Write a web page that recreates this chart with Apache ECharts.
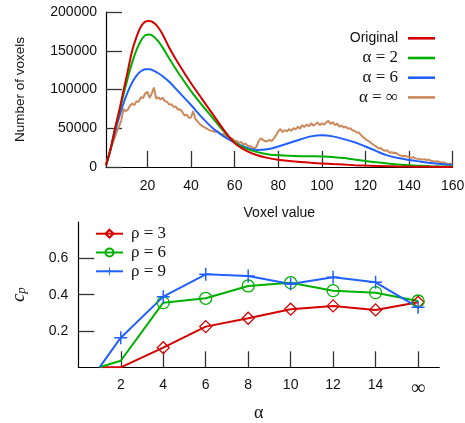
<!DOCTYPE html>
<html>
<head>
<meta charset="utf-8">
<script src="https://cdn.jsdelivr.net/npm/echarts@6/dist/echarts.min.js"></script>
<style>
  html, body { margin: 0; padding: 0; background: #fff; }
  #chart { width: 465px; height: 423px; }
</style>
</head>
<body>
<div id="chart"></div>
<script>
  // ---- histogram (top) ----
  var smoothX = [1, 3, 5, 7, 9, 11, 13, 15, 17, 19, 21, 23, 25, 27, 30, 35, 40, 45, 50, 55, 60, 65, 70, 75, 80,
    85, 90, 95, 100, 105, 110, 115, 120, 125, 130, 135, 140, 145, 150, 155, 160];
  var original = [2000, 22000, 48000, 72000, 98000, 124000, 150000, 168000, 181000, 187500, 188500, 186000, 180000,
    171000, 154000, 130000, 108000, 88000, 68000, 48000, 31000, 21500, 15500, 11800, 9300,
    7700, 6400, 5400, 4600, 3800, 3100, 2400, 1800, 1400, 1000, 700, 500, 350, 250, 150, 100];
  var alpha2 = [2000, 22000, 47000, 70000, 93000, 115000, 135000, 151000, 163000, 170000, 171000, 168000, 162000,
    154000, 140000, 118000, 98000, 80000, 63000, 46000, 32000, 24000, 19500, 16500, 15300,
    14500, 14000, 13800, 13600, 13000, 11500, 9600, 7800, 6000, 4500, 3300, 2300, 1600, 1000, 600, 400];
  var alpha6 = [3000, 22000, 44000, 64000, 82000, 97000, 109000, 118000, 123500, 126000, 126000, 124000, 121000,
    117000, 110000, 95000, 80000, 64000, 50000, 39500, 31500, 25500, 22000, 23000, 26500,
    31000, 35500, 39500, 41000, 39500, 36000, 32000, 26500, 20500, 15000, 11500, 9000, 7000, 5200, 3800, 2600];
  // alpha = infinity, one value per voxel value 1..160
  var alphaInf = [
    4000, 12000, 22000, 30000, 38000, 46000, 52000, 60000, 75000, 72000,
    74000, 79000, 82000, 80000, 85000, 84000, 90000, 89000, 95000, 97000,
    89000, 95000, 102500, 88000, 90000, 87000, 89500, 85000, 84000, 80500,
    81000, 77500, 78000, 74000, 74500, 71000, 66500, 67500, 63500, 64000,
    72000, 62000, 59000, 55500, 53000, 51500, 50000, 48000, 47000, 46000,
    45500, 46500, 44000, 42000, 42500, 40000, 38500, 37500, 36500, 34000,
    33500, 31000, 32500, 29000, 30000, 27500, 27000, 25500, 24000, 26000,
    33500, 37000, 35000, 33000, 33500, 35000, 33500, 37000, 41000, 46000,
    49000, 45000, 47500, 46000, 49000, 46500, 50000, 48500, 52000, 49500,
    54000, 51500, 55000, 52500, 56500, 53500, 55000, 57500, 54000, 56500,
    54500, 57500, 59500, 55500, 58000, 54000, 56000, 52000, 53500, 51000,
    52000, 49500, 50000, 47500, 46500, 44500, 44500, 41000, 38500, 36000,
    34000, 32500, 30000, 28000, 26500, 24000, 24500, 22000, 21000, 21500,
    18500, 19000, 18000, 18500, 16000, 15000, 14000, 14500, 13500, 13000,
    12000, 12500, 11000, 10500, 10000, 9500, 10000, 9000, 9500, 8000,
    7500, 7000, 7500, 6500, 5500, 6000, 4500, 4000, 4500, 2500
  ];
  var voxelTicks = [20, 40, 60, 80, 100, 120, 140, 160];

  // ---- c_p vs alpha (bottom) ----
  var alphaPos = [1, 2, 4, 6, 8, 10, 12, 14, 16]; // 16 stands for infinity
  var alphaTicks = [2, 4, 6, 8, 10, 12, 14, 16];
  var rho3 = [0, 0, 0.108, 0.224, 0.27, 0.32, 0.338, 0.316, 0.358];
  var rho6 = [0, 0.036, 0.356, 0.38, 0.448, 0.466, 0.422, 0.411, 0.365];
  var rho9 = [0, 0.163, 0.389, 0.512, 0.503, 0.459, 0.496, 0.468, 0.33];
  var cpTicks = [0.2, 0.4, 0.6];

  var RED = '#d40000', GREEN = '#00b000', BLUE = '#2060ff', BROWN = '#cc8a5c';
  var SANS = 'Liberation Sans', SERIF = "'Liberation Serif', 'DejaVu Serif', serif";

  function pairs(xs, ys) {
    return xs.map(function (x, i) { return [x, ys[i]]; });
  }
  function withMarkers(xs, ys, firstMarker) {
    return xs.map(function (x, i) {
      var d = { value: [x, ys[i]] };
      if (i < firstMarker) d.symbol = 'none';
      return d;
    });
  }
  // legend text: plain names in sans, math names (with greek) in serif
  function legendText(name) {
    return /[αρ]/.test(name) ? '{m|' + name + '}' : '{s|' + name + '}';
  }
  var legendRich = {
    m: { fontFamily: SERIF, fontSize: 17, lineHeight: 18, color: '#111' },
    s: { fontFamily: SANS, fontSize: 14, lineHeight: 18, color: '#111' }
  };

  var axisLine = { show: true, lineStyle: { color: '#000', width: 1.2 } };
  var axisTick = { show: true, inside: true, length: 16, lineStyle: { color: '#333', width: 1.3 } };
  var labelStyle = { color: '#111', fontFamily: SANS, fontSize: 14 };

  var chart = echarts.init(document.getElementById('chart'), null, { renderer: 'canvas' });

  var plusPath = 'path://M0,6.2h14v1.6h-14z M6.2,0h1.6v14h-1.6z';

  var option = {
    backgroundColor: '#fff',
    animation: false,
    grid: [
      { left: 106, right: 12.3, top: 12, height: 155, outerBoundsMode: 'none' },
      { left: 78.3, right: 25.7, top: 222, height: 145.3, outerBoundsMode: 'none' }
    ],
    legend: [
      {
        orient: 'vertical', align: 'right', right: 30, top: 29.3, padding: 0,
        icon: 'rect', itemWidth: 27, itemHeight: 2.6, itemGap: 1.7,
        formatter: legendText,
        textStyle: { color: '#111', fontSize: 17, lineHeight: 18, padding: [0, 5, 0, 0], rich: legendRich },
        data: ['Original', 'α = 2', 'α = 6', 'α = ∞']
      },
      {
        orient: 'vertical', align: 'left', left: 95, top: 224.7, padding: 0,
        itemWidth: 27, itemHeight: 10, itemGap: 0.8,
        formatter: legendText,
        textStyle: { color: '#111', fontSize: 17, lineHeight: 18, padding: [0, 0, 0, 3], rich: legendRich },
        data: ['ρ = 3', 'ρ = 6', 'ρ = 9']
      }
    ],
    xAxis: [
      {
        gridIndex: 0, type: 'value', min: 1, max: 160,
        name: 'Voxel value', nameLocation: 'middle', nameGap: 39,
        nameTextStyle: { color: '#111', fontFamily: SANS, fontSize: 14 },
        axisLine: axisLine, axisTick: Object.assign({ customValues: voxelTicks }, axisTick),
        axisLabel: Object.assign({ customValues: voxelTicks, margin: 12 }, labelStyle),
        splitLine: { show: false }
      },
      {
        gridIndex: 1, type: 'value', min: 0, max: 17,
        name: '{a|α}', nameLocation: 'middle', nameGap: 37,
        nameTextStyle: { rich: { a: { fontFamily: SERIF, fontSize: 18, color: '#111' } } },
        axisLine: axisLine, axisTick: Object.assign({ customValues: alphaTicks }, axisTick),
        axisLabel: Object.assign({
          customValues: alphaTicks, margin: 11,
          formatter: function (v) { return v === 16 ? '{inf|∞}' : String(v); },
          rich: { inf: { fontFamily: SERIF, fontSize: 20, color: '#111', padding: [0, 0, 3, 0] } }
        }, labelStyle),
        splitLine: { show: false }
      }
    ],
    yAxis: [
      {
        gridIndex: 0, type: 'value', min: 0, max: 200000, interval: 50000,
        name: 'Number of voxels', nameLocation: 'middle', nameGap: 79, nameRotate: 90,
        nameTextStyle: { color: '#111', fontFamily: SANS, fontSize: 13.5 },
        axisLine: axisLine, axisTick: axisTick,
        axisLabel: Object.assign({ margin: 9, formatter: function (v) { return String(v); } }, labelStyle),
        splitLine: { show: false }
      },
      {
        gridIndex: 1, type: 'value', min: 0, max: 0.8,
        name: '{c|c}{p|p}', nameLocation: 'middle', nameGap: 45, nameRotate: 90,
        nameTextStyle: {
          color: '#111',
          rich: {
            c: { fontFamily: SERIF, fontStyle: 'italic', fontSize: 19, color: '#111', padding: [0, 0, 5, 0] },
            p: { fontFamily: SERIF, fontStyle: 'italic', fontSize: 13, color: '#111' }
          }
        },
        axisLine: axisLine, axisTick: Object.assign({ customValues: cpTicks }, axisTick),
        axisLabel: Object.assign({ customValues: cpTicks, margin: 10 }, labelStyle),
        splitLine: { show: false }
      }
    ],
    series: [
      {
        name: 'α = ∞', type: 'line', xAxisIndex: 0, yAxisIndex: 0, showSymbol: false, symbol: 'none',
        color: BROWN, lineStyle: { color: BROWN, width: 2 }, z: 1,
        data: pairs(alphaInf.map(function (_, i) { return i + 1; }), alphaInf)
      },
      {
        name: 'α = 6', type: 'line', xAxisIndex: 0, yAxisIndex: 0, symbol: 'none', smooth: 0.35,
        color: BLUE, lineStyle: { color: BLUE, width: 2 }, z: 2,
        data: pairs(smoothX, alpha6)
      },
      {
        name: 'α = 2', type: 'line', xAxisIndex: 0, yAxisIndex: 0, symbol: 'none', smooth: 0.35,
        color: GREEN, lineStyle: { color: GREEN, width: 2 }, z: 3,
        data: pairs(smoothX, alpha2)
      },
      {
        name: 'Original', type: 'line', xAxisIndex: 0, yAxisIndex: 0, symbol: 'none', smooth: 0.35,
        color: RED, lineStyle: { color: RED, width: 2 }, z: 4,
        data: pairs(smoothX, original)
      },
      {
        name: 'ρ = 3', type: 'line', xAxisIndex: 1, yAxisIndex: 1, symbol: 'diamond', symbolSize: 12,
        color: RED, lineStyle: { color: RED, width: 2 },
        itemStyle: { color: 'rgba(255,255,255,0)', borderColor: RED, borderWidth: 1.3 },
        data: withMarkers(alphaPos, rho3, 2)
      },
      {
        name: 'ρ = 6', type: 'line', xAxisIndex: 1, yAxisIndex: 1, symbol: 'circle', symbolSize: 12,
        color: GREEN, lineStyle: { color: GREEN, width: 2 },
        itemStyle: { color: 'rgba(255,255,255,0)', borderColor: GREEN, borderWidth: 1.3 },
        data: withMarkers(alphaPos, rho6, 2)
      },
      {
        name: 'ρ = 9', type: 'line', xAxisIndex: 1, yAxisIndex: 1, symbol: plusPath, symbolSize: 13,
        color: BLUE, lineStyle: { color: BLUE, width: 2 },
        itemStyle: { color: BLUE, borderWidth: 0 },
        data: withMarkers(alphaPos, rho9, 1)
      }
    ]
  };

  chart.setOption(option);
</script>
</body>
</html>
